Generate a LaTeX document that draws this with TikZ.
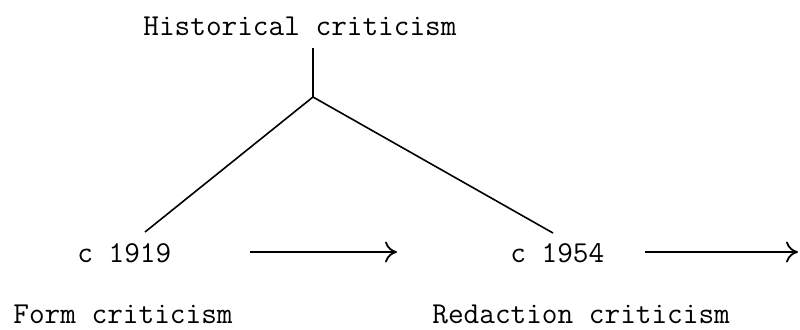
\documentclass[tikz,border=0pt]{standalone}
\usepackage{fontspec}
\usepackage{tikz}
\usetikzlibrary{arrows.meta,positioning}

\begin{document}
\begin{tikzpicture}[
  x=0.5pt, y=-0.5pt,
  lbl/.style={font=\fontsize{15.2}{18}\selectfont\ttfamily, inner sep=0pt, anchor=base west},
  link/.style={line width=0.8pt},
  flow/.style={line width=0.9pt, -{Computer Modern Rightarrow[length=6pt, width=10.5pt]}}
]
\useasboundingbox (0,0) rectangle (800,329);
\node[lbl] (hist) at (143,35) {Historical criticism};
\coordinate (top) at (313,48);
\coordinate (fork) at (313,97);
\coordinate (end19) at (145,232);
\coordinate (end54) at (553,233);
\node[lbl] (y1919) at (77,262) {c 1919};
\node[lbl] (form) at (13,323) {Form criticism};
\node[lbl] (y1954) at (510,262) {c 1954};
\node[lbl] (redac) at (432,323) {Redaction criticism};
% fork down to the two dates
\draw[link] (top) -- (fork);
\draw[link] (fork) -- (end19);
\draw[link] (fork) -- (end54);
% time arrows
\coordinate (a1s) at (250,252);
\coordinate (a1e) at (397,252);
\coordinate (a2s) at (645,252);
\coordinate (a2e) at (798,252);
\draw[flow] (a1s) -- (a1e);
\draw[flow] (a2s) -- (a2e);
\end{tikzpicture}
\end{document}
